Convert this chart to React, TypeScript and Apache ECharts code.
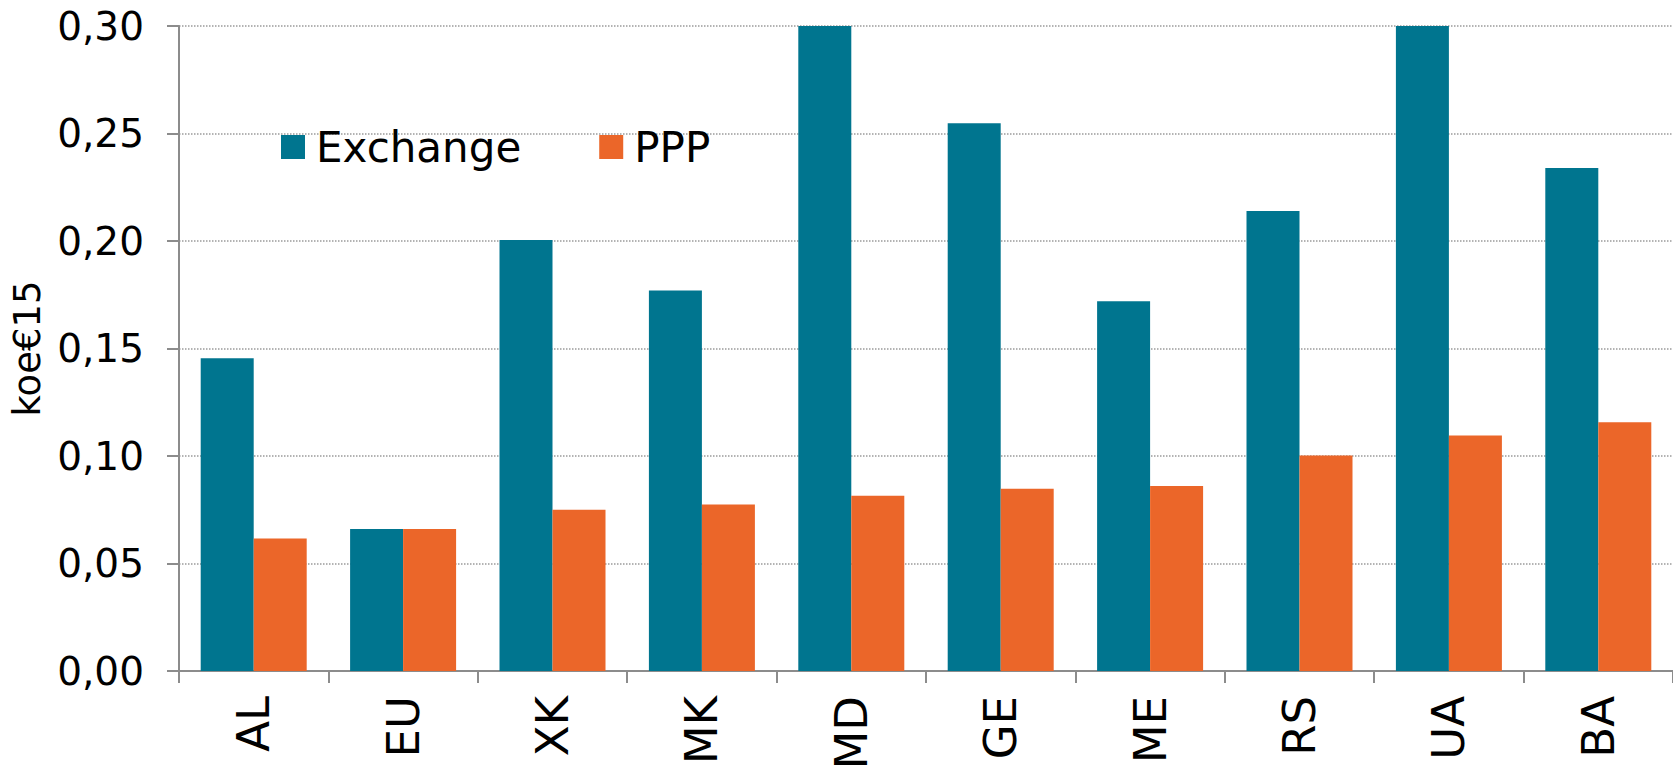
import React, { useEffect, useRef } from "react";
import * as echarts from "echarts";

const categories = ["AL", "EU", "XK", "MK", "MD", "GE", "ME", "RS", "UA", "BA"];
const exchangeValues = [0.1455, 0.066, 0.2005, 0.177, 0.30, 0.2548, 0.172, 0.214, 0.30, 0.234];
const pppValues = [0.0616, 0.066, 0.075, 0.0775, 0.0815, 0.0848, 0.086, 0.1002, 0.1095, 0.1157];
const seriesNames = ["Exchange", "PPP"];
const yAxisName = "koe€15";

const FONT = "DejaVu Sans";

export default function App() {
  const ref = useRef<HTMLDivElement>(null);
  useEffect(() => {
    if (!ref.current) return;
    const chart = echarts.init(ref.current, null, { renderer: "svg" });
    chart.setOption({
      animation: false,
      backgroundColor: "#ffffff",
      textStyle: { fontFamily: FONT },
      legend: {
        data: seriesNames,
        left: 281,
        top: 126,
        padding: 0,
        itemWidth: 24,
        itemHeight: 24,
        itemGap: 78,
        icon: "rect",
        textStyle: { fontSize: 42, color: "#000", fontFamily: FONT, padding: [0, 0, 0, 6] },
      },
      grid: { left: 179, right: 0, top: 26, bottom: 95, containLabel: false, outerBoundsMode: "none" },
      xAxis: {
        type: "category",
        data: categories,
        axisLine: { lineStyle: { color: "#8c8c8c", width: 2 } },
        axisTick: { show: true, length: 12, alignWithLabel: false, lineStyle: { color: "#8c8c8c", width: 2 } },
        axisLabel: { rotate: 90, margin: 25, fontSize: 45, color: "#000", fontFamily: FONT },
      },
      yAxis: {
        type: "value",
        min: 0,
        max: 0.3,
        interval: 0.05,
        name: yAxisName,
        nameLocation: "middle",
        nameGap: 129,
        nameTextStyle: { fontSize: 37, color: "#000", fontFamily: FONT },
        axisLine: { show: true, lineStyle: { color: "#8c8c8c", width: 2 } },
        axisTick: { show: true, length: 12, lineStyle: { color: "#8c8c8c", width: 2 } },
        axisLabel: {
          margin: 35,
          fontSize: 39,
          color: "#000",
          fontFamily: FONT,
          formatter: (v: number) => v.toFixed(2).replace(".", ","),
        },
        splitLine: { show: true, lineStyle: { color: "#9a9a9a", width: 1.5, type: [1.5, 1.5] } },
      },
      series: [
        {
          name: seriesNames[0],
          type: "bar",
          data: exchangeValues,
          barWidth: 53,
          barGap: "0%",
          itemStyle: { color: "#00758f" },
        },
        {
          name: seriesNames[1],
          type: "bar",
          data: pppValues,
          barWidth: 53,
          barGap: "0%",
          itemStyle: { color: "#eb6629" },
        },
      ],
    });
    return () => chart.dispose();
  }, []);
  return (
    <div
      ref={ref}
      style={{ position: "fixed", left: 0, top: 0, width: 1673, height: 766 }}
    />
  );
}
